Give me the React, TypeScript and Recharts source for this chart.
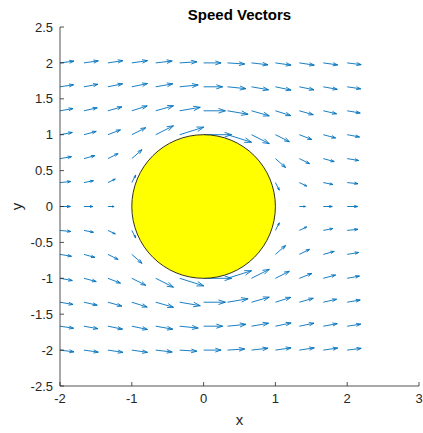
import React from 'react';
import { ScatterChart, Scatter, XAxis, YAxis, ReferenceLine, ReferenceDot } from 'recharts';

// ---- data ----
const GRID_X = [-2, -1.667, -1.333, -1, -0.667, -0.333, 0, 0.333, 0.667, 1, 1.333, 1.667, 2];
const GRID_Y = [2, 1.667, 1.333, 1, 0.667, 0.333, 0, -0.333, -0.667, -1, -1.333, -1.667, -2];
const _ = null;
const U_ROWS: (number | null)[][] = [
  [1.0, 1.03, 1.07, 1.12, 1.18, 1.23, 1.25, 1.23, 1.18, 1.12, 1.07, 1.03, 1.0],
  [0.97, 1.0, 1.05, 1.12, 1.22, 1.32, 1.36, 1.32, 1.22, 1.12, 1.05, 1.0, 0.97],
  [0.93, 0.95, 1.0, 1.1, 1.27, 1.47, 1.56, 1.47, 1.27, 1.1, 1.0, 0.95, 0.93],
  [0.88, 0.88, 0.9, 1.0, 1.27, 1.72, 2.0, 1.72, 1.27, 1.0, 0.9, 0.88, 0.88],
  [0.82, 0.78, 0.73, 0.73, _, _, _, _, _, 0.73, 0.73, 0.78, 0.82],
  [0.77, 0.68, 0.53, 0.28, _, _, _, _, _, 0.28, 0.53, 0.68, 0.77],
  [0.75, 0.64, 0.44, 0.0, _, _, _, _, _, 0.0, 0.44, 0.64, 0.75],
  [0.77, 0.68, 0.53, 0.28, _, _, _, _, _, 0.28, 0.53, 0.68, 0.77],
  [0.82, 0.78, 0.73, 0.73, _, _, _, _, _, 0.73, 0.73, 0.78, 0.82],
  [0.88, 0.88, 0.9, 1.0, 1.27, 1.72, 2.0, 1.72, 1.27, 1.0, 0.9, 0.88, 0.88],
  [0.93, 0.95, 1.0, 1.1, 1.27, 1.47, 1.56, 1.47, 1.27, 1.1, 1.0, 0.95, 0.93],
  [0.97, 1.0, 1.05, 1.12, 1.22, 1.32, 1.36, 1.32, 1.22, 1.12, 1.05, 1.0, 0.97],
  [1.0, 1.03, 1.07, 1.12, 1.18, 1.23, 1.25, 1.23, 1.18, 1.12, 1.07, 1.03, 1.0],
];
const V_ROWS: (number | null)[][] = [
  [0.125, 0.145, 0.16, 0.16, 0.135, 0.079, 0, -0.079, -0.135, -0.16, -0.16, -0.145, -0.125],
  [0.145, 0.18, 0.214, 0.234, 0.214, 0.133, 0, -0.133, -0.214, -0.234, -0.214, -0.18, -0.145],
  [0.16, 0.214, 0.281, 0.346, 0.36, 0.249, 0, -0.249, -0.36, -0.346, -0.281, -0.214, -0.16],
  [0.16, 0.234, 0.346, 0.5, 0.639, 0.54, 0, -0.54, -0.639, -0.5, -0.346, -0.234, -0.16],
  [0.135, 0.214, 0.36, 0.639, _, _, _, _, _, -0.639, -0.36, -0.214, -0.135],
  [0.079, 0.133, 0.249, 0.54, _, _, _, _, _, -0.54, -0.249, -0.133, -0.079],
  [0, 0, 0, 0, _, _, _, _, _, 0, 0, 0, 0],
  [-0.079, -0.133, -0.249, -0.54, _, _, _, _, _, 0.54, 0.249, 0.133, 0.079],
  [-0.135, -0.214, -0.36, -0.639, _, _, _, _, _, 0.639, 0.36, 0.214, 0.135],
  [-0.16, -0.234, -0.346, -0.5, -0.639, -0.54, 0, 0.54, 0.639, 0.5, 0.346, 0.234, 0.16],
  [-0.16, -0.214, -0.281, -0.346, -0.36, -0.249, 0, 0.249, 0.36, 0.346, 0.281, 0.214, 0.16],
  [-0.145, -0.18, -0.214, -0.234, -0.214, -0.133, 0, 0.133, 0.214, 0.234, 0.214, 0.18, 0.145],
  [-0.125, -0.145, -0.16, -0.16, -0.135, -0.079, 0, 0.079, 0.135, 0.16, 0.16, 0.145, 0.125],
];
const QUIVER_SCALE = 0.195;
const CYLINDER_CENTER = { x: 0, y: 0 };
const CYLINDER_RADIUS = 1;
const X_DOMAIN = [-2, 3];
const Y_DOMAIN = [-2.5, 2.5];
const X_TICKS = [-2, -1, 0, 1, 2, 3];
const Y_TICKS = [-2.5, -2, -1.5, -1, -0.5, 0, 0.5, 1, 1.5, 2, 2.5];
const TITLE = 'Speed Vectors';
const X_LABEL = 'x';
const Y_LABEL = 'y';

// ---- layout / style ----
const W = 423;
const H = 433;
const M = { top: 27, right: 4, bottom: 0, left: 0 };
const Y_AXIS_W = 60;
const X_AXIS_H = 47;
const PLOT_W = W - M.left - M.right - Y_AXIS_W;
const PLOT_H = H - M.top - M.bottom - X_AXIS_H;
const FONT = "'Liberation Sans', Arial, Helvetica, sans-serif";
const AX = '#262626';
const BLUE = '#0072BD';

type Arrow = { x: number; y: number; u: number; v: number };
const ARROWS: Arrow[] = [];
GRID_Y.forEach((y, i) => {
  GRID_X.forEach((x, j) => {
    const u = U_ROWS[i][j];
    const v = V_ROWS[i][j];
    if (u === null || v === null) return;
    if (u === 0 && v === 0) return;
    ARROWS.push({ x, y, u, v });
  });
});

const ArrowShape = (p: any) => {
  const { x1, y1, x2, y2 } = p;
  const dx = x2 - x1;
  const dy = y2 - y1;
  const len = Math.hypot(dx, dy);
  if (!len || !isFinite(len)) return <g />;
  const ux = dx / len;
  const uy = dy / len;
  const hl = Math.min(0.33 * len, 7);
  const hw = hl * 0.33;
  const bx = x2 - ux * hl;
  const by = y2 - uy * hl;
  const a = `${bx - uy * hw},${by + ux * hw}`;
  const b = `${bx + uy * hw},${by - ux * hw}`;
  return (
    <g>
      <line x1={x1} y1={y1} x2={x2} y2={y2} stroke={BLUE} strokeWidth={0.9} />
      <polyline points={`${a} ${x2},${y2} ${b}`} fill="none" stroke={BLUE} strokeWidth={0.9} />
    </g>
  );
};

const XTick = (p: any) => {
  const { x, y, payload } = p;
  return (
    <g>
      <line x1={x} y1={y} x2={x} y2={y - 4} stroke={AX} strokeWidth={0.8} />
      <text x={x} y={y + 17} textAnchor="middle" fontSize={13} fontFamily={FONT} fill={AX}>
        {String(payload.value)}
      </text>
    </g>
  );
};

const YTick = (p: any) => {
  const { x, y, payload } = p;
  return (
    <g>
      <line x1={x} y1={y} x2={x + 4} y2={y} stroke={AX} strokeWidth={0.8} />
      <text x={x - 7} y={y + 4.6} textAnchor="end" fontSize={13} fontFamily={FONT} fill={AX}>
        {String(payload.value)}
      </text>
    </g>
  );
};

export default function App() {
  const pxPerUnit = (PLOT_W / (X_DOMAIN[1] - X_DOMAIN[0]) + PLOT_H / (Y_DOMAIN[1] - Y_DOMAIN[0])) / 2;
  const plotLeft = M.left + Y_AXIS_W;
  const plotCx = plotLeft + PLOT_W / 2;
  const plotCy = M.top + PLOT_H / 2;
  return (
    <div style={{ position: 'absolute', left: 0, top: 0, width: W, height: H, background: '#fff' }}>
      <ScatterChart width={W} height={H} margin={M}>
        <XAxis
          type="number"
          dataKey="x"
          domain={X_DOMAIN}
          ticks={X_TICKS}
          interval={0}
          allowDataOverflow
          tickSize={0}
          tickMargin={0}
          tickLine={false}
          axisLine={{ stroke: AX, strokeWidth: 0.8 }}
          height={X_AXIS_H}
          tick={XTick}
        />
        <YAxis
          type="number"
          dataKey="y"
          domain={Y_DOMAIN}
          ticks={Y_TICKS}
          interval={0}
          allowDataOverflow
          tickSize={0}
          tickMargin={0}
          tickLine={false}
          axisLine={{ stroke: AX, strokeWidth: 0.8 }}
          width={Y_AXIS_W}
          tick={YTick}
        />
        <Scatter data={ARROWS} isAnimationActive={false} shape={() => <g />} />
        <ReferenceDot
          x={CYLINDER_CENTER.x}
          y={CYLINDER_CENTER.y}
          r={CYLINDER_RADIUS * pxPerUnit}
          fill="#FFFF00"
          stroke="#1a1a1a"
          strokeWidth={0.9}
          ifOverflow="visible"
        />
        {ARROWS.map((a, k) => (
          <ReferenceLine
            key={k}
            segment={[
              { x: a.x, y: a.y },
              { x: a.x + a.u * QUIVER_SCALE, y: a.y + a.v * QUIVER_SCALE },
            ]}
            ifOverflow="visible"
            shape={ArrowShape}
          />
        ))}
      </ScatterChart>
      <svg
        width={W}
        height={H}
        style={{ position: 'absolute', left: 0, top: 0, pointerEvents: 'none' }}
      >
        <text x={plotCx} y={20} textAnchor="middle" fontSize={15} fontWeight="bold" fontFamily={FONT} fill="#000">
          {TITLE}
        </text>
        <text x={plotCx} y={425} textAnchor="middle" fontSize={15} fontFamily={FONT} fill={AX}>
          {X_LABEL}
        </text>
        <text
          x={22}
          y={plotCy}
          textAnchor="middle"
          fontSize={15}
          fontFamily={FONT}
          fill={AX}
          transform={`rotate(-90 22 ${plotCy})`}
        >
          {Y_LABEL}
        </text>
      </svg>
    </div>
  );
}
